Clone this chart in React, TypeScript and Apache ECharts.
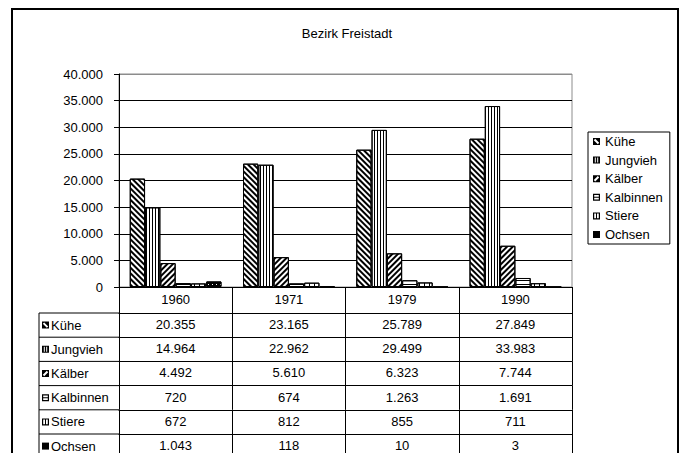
import React, { useEffect, useRef } from 'react';
import * as echarts from 'echarts';

// ---------- data ----------
const TITLE = 'Bezirk Freistadt';
const YEARS = ['1960', '1971', '1979', '1990'];
const SERIES_NAMES = ['Kühe', 'Jungvieh', 'Kälber', 'Kalbinnen', 'Stiere', 'Ochsen'];
const KUEHE = [20355, 23165, 25789, 27849];
const JUNGVIEH = [14964, 22962, 29499, 33983];
const KAELBER = [4492, 5610, 6323, 7744];
const KALBINNEN = [720, 674, 1263, 1691];
const STIERE = [672, 812, 855, 711];
const OCHSEN = [1043, 118, 10, 3];
const Y_MIN = 0;
const Y_MAX = 40000;
const Y_STEP = 5000;

const SERIES_DATA = [KUEHE, JUNGVIEH, KAELBER, KALBINNEN, STIERE, OCHSEN];

// ---------- layout / style ----------
const W = 683;
const H = 453;
const FONT = '"Liberation Sans", Arial, sans-serif';
const FS = 13;
const GRID_LEFT = 119;
const GRID_RIGHT = 111;
const GRID_TOP = 74;
const GRID_BOTTOM = 166;
const AXIS_Y = H - GRID_BOTTOM;
const HEADER_H = 26;
const ROW_H = 24.2;
const LEFT_COL_X = 39;

const SQ = 'M0,0H7V7H0Z';
const ICONS = [
  SQ + ' M0.8,2.2L4.8,6.2L6.2,4.8L2.2,0.8Z',
  SQ + ' M1.8,1V6H2.8V1Z M4.2,1V6H5.2V1Z',
  SQ + ' M0.8,4.8L2.2,6.2L6.2,2.2L4.8,0.8Z',
  SQ + ' M1.2,1.2V3H5.8V1.2Z M1.2,4V5.8H5.8V4Z',
  SQ + ' M1.2,1.2V5.8H3V1.2Z M4,1.2V5.8H5.8V1.2Z',
  SQ,
];

const FILLS = ['#fff', '#fff', '#fff', '#fff', '#fff', '#000'];
const DECALS: any[] = [
  { symbol: 'rect', symbolSize: 1, color: '#000', dashArrayX: [1, 0], dashArrayY: [2, 2], rotation: Math.PI / 4 },
  { symbol: 'rect', symbolSize: 1, color: '#000', dashArrayX: [1, 0], dashArrayY: [1, 2], rotation: Math.PI / 2 },
  { symbol: 'rect', symbolSize: 1, color: '#000', dashArrayX: [1, 0], dashArrayY: [2, 2], rotation: -Math.PI / 4 },
  { symbol: 'rect', symbolSize: 1, color: '#000', dashArrayX: [1, 0], dashArrayY: [1, 3], rotation: 0 },
  { symbol: 'rect', symbolSize: 1, color: '#000', dashArrayX: [1, 0], dashArrayY: [1, 4], rotation: Math.PI / 2 },
  { symbol: 'rect', symbolSize: 1, color: '#fff', dashArrayX: [1, 3], dashArrayY: [1, 3], rotation: 0 },
];

const fmt = (v: number) => String(v).replace(/\B(?=(\d{3})+(?!\d))/g, '.');

ICONS.forEach((d, i) => {
  echarts.graphic.registerShape('rowIcon' + i, echarts.graphic.extendPath(d, {}) as any);
});

export default function App() {
  const ref = useRef<HTMLDivElement>(null);

  useEffect(() => {
    if (!ref.current) return;
    const chart = echarts.init(ref.current, undefined, { renderer: 'svg' });

    const rowTop = (i: number) => AXIS_Y + HEADER_H + i * ROW_H;

    const graphic: any[] = [
      {
        type: 'rect',
        silent: true,
        z: -10,
        shape: { x: 12, y: 9, width: 666, height: 470 },
        style: { fill: 'none', stroke: '#000', lineWidth: 2 },
      },
      {
        type: 'text',
        x: 347,
        y: 33,
        style: { text: TITLE, fontSize: FS, fontFamily: FONT, fill: '#000', align: 'center', verticalAlign: 'middle' },
      },
      {
        type: 'line',
        shape: { x1: LEFT_COL_X, y1: rowTop(0), x2: LEFT_COL_X, y2: H + 10 },
        style: { stroke: '#000', lineWidth: 1 },
      },
    ];
    SERIES_NAMES.forEach((name, i) => {
      const top = rowTop(i);
      graphic.push({
        type: 'line',
        shape: { x1: LEFT_COL_X, y1: top, x2: GRID_LEFT, y2: top },
        style: { stroke: '#000', lineWidth: 1 },
      });
      graphic.push({
        type: 'rowIcon' + i,
        x: 42,
        y: top + ROW_H / 2 - 3.5,
        style: { fill: '#000' },
      });
      graphic.push({
        type: 'text',
        x: 51,
        y: top + ROW_H / 2,
        style: { text: name, fontSize: FS, fontFamily: FONT, fill: '#000', align: 'left', verticalAlign: 'middle' },
      });
    });

    const splitColors = [];
    for (let v = Y_MIN; v <= Y_MAX; v += Y_STEP) splitColors.push(v === Y_MAX ? '#8c8c8c' : '#000');

    const mainX = {
      type: 'category',
      gridIndex: 0,
      position: 'bottom',
      data: YEARS,
      axisLine: { show: true, onZero: false, lineStyle: { color: '#000', width: 1 } },
      axisTick: { show: true, length: HEADER_H, lineStyle: { color: '#000' } },
      axisLabel: { interval: 0, margin: 6, fontSize: FS, color: '#000', fontFamily: FONT },
      splitLine: { show: false },
    };
    const rowAxes = SERIES_DATA.map((vals, i) => ({
      type: 'category',
      gridIndex: 0,
      position: 'bottom',
      offset: HEADER_H + i * ROW_H,
      data: vals.map(fmt),
      axisLine: { show: true, onZero: false, lineStyle: { color: '#000', width: 1 } },
      axisTick: { show: true, length: ROW_H, lineStyle: { color: '#000' } },
      axisLabel: { interval: 0, margin: 5, fontSize: FS, color: '#000', fontFamily: FONT },
      splitLine: { show: false },
    }));

    const option: any = {
      animation: false,
      backgroundColor: '#fff',
      textStyle: { fontFamily: FONT },
      grid: {
        left: GRID_LEFT,
        right: GRID_RIGHT,
        top: GRID_TOP,
        bottom: GRID_BOTTOM,
        show: true,
        borderColor: '#8c8c8c',
        borderWidth: 1,
        backgroundColor: 'transparent',
      },
      legend: {
        orient: 'vertical',
        left: 588,
        top: 132,
        padding: [2, 7, 2, 5],
        borderColor: '#000',
        borderWidth: 1,
        itemWidth: 7,
        itemHeight: 7,
        itemGap: 3.6,
        selectedMode: false,
        textStyle: { fontSize: FS, lineHeight: 15, color: '#000', fontFamily: FONT },
        data: SERIES_NAMES.map((name, i) => ({
          name,
          icon: 'path://' + ICONS[i],
          itemStyle: { color: '#000', borderWidth: 0, decal: 'none' },
        })),
      },
      xAxis: [mainX, ...rowAxes],
      yAxis: {
        type: 'value',
        min: Y_MIN,
        max: Y_MAX,
        interval: Y_STEP,
        axisLine: { show: true, lineStyle: { color: '#000', width: 1 } },
        axisTick: { show: true, length: 5, lineStyle: { color: '#000' } },
        axisLabel: { margin: 16, fontSize: FS, color: '#000', fontFamily: FONT, formatter: (v: number) => fmt(v) },
        splitLine: { show: true, lineStyle: { color: splitColors, width: 1 } },
      },
      series: SERIES_NAMES.map((name, i) => ({
        name,
        type: 'bar',
        xAxisIndex: 0,
        yAxisIndex: 0,
        data: SERIES_DATA[i],
        barGap: '0%',
        barCategoryGap: '19%',
        itemStyle: { color: FILLS[i], borderColor: '#000', borderWidth: 1, decal: DECALS[i] },
        emphasis: { disabled: true },
      })),
      graphic,
    };

    chart.setOption(option);
    return () => chart.dispose();
  }, []);

  return (
    <div
      ref={ref}
      style={{ position: 'fixed', left: 0, top: 0, width: W, height: H, background: '#fff' }}
    />
  );
}
